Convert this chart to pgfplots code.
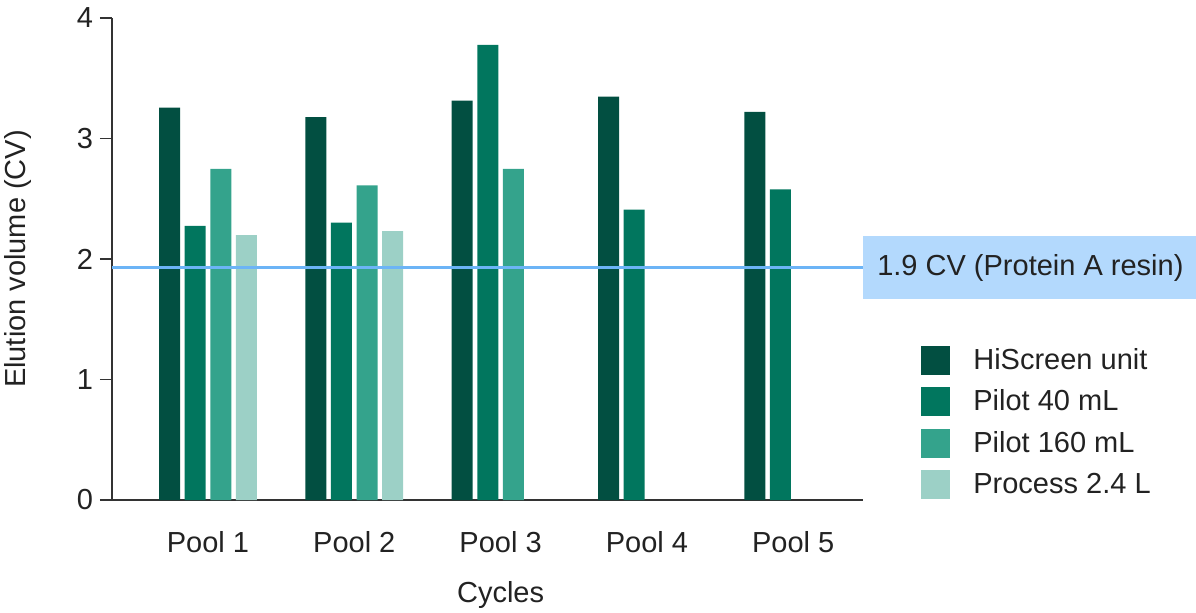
\documentclass[border=0pt]{standalone}
\usepackage{fontspec}
\setmainfont{Liberation Sans}
\usepackage{pgfplots}
\pgfplotsset{compat=1.18}
\definecolor{cA}{HTML}{024F41}
\definecolor{cB}{HTML}{01765E}
\definecolor{cC}{HTML}{34A38C}
\definecolor{cD}{HTML}{9CD0C6}
\definecolor{lineblue}{HTML}{6CB4F6}
\definecolor{boxblue}{HTML}{B3D9FD}
\definecolor{txt}{HTML}{222222}
\newcommand{\ff}{\fontsize{14.5}{17}\selectfont}
\begin{document}
\begin{tikzpicture}[x=1pt,y=1pt]
\useasboundingbox (-56,-56) rectangle (542,250);
\begin{axis}[
  at={(0,0)}, anchor=south west,
  width=375.5pt, height=241pt, scale only axis,
  xmin=-0.656, xmax=4.477, ymin=0, ymax=4,
  axis x line*=bottom, axis y line*=left,
  axis line style={color=black!80, line width=0.8pt, -},
  ytick={0,1,2,3,4},
  xtick={0,1,2,3,4},
  xticklabels={Pool 1,Pool 2,Pool 3,Pool 4,Pool 5},
  x tick style={draw=none},
  y tick style={line width=0.8pt, color=black!80},
  tick align=outside, major tick length=6pt,
  tick label style={font=\ff, text=txt},
  /pgf/number format/assume math mode=true,
  xticklabel style={anchor=base, yshift=-20pt},
  ylabel={Elution volume (CV)},
  ylabel style={at={(axis description cs:-0.1252,0.5)}, anchor=center, font=\ff, text=txt},
  xlabel={Cycles},
  xlabel style={at={(axis cs:2,0)}, anchor=center, yshift=-47.5pt, font=\ff, text=txt},
  ybar=2.3pt, bar width=10.5pt,
  clip=false,
  legend image code/.code={\fill[#1] (0pt,-7.25pt) rectangle (14.5pt,7.25pt);},
  legend cell align=left,
  legend style={at={(axis description cs:1.0772,0.3335)}, anchor=north west,
    draw=none, fill=none, inner sep=0pt, row sep=0pt, font=\ff, text=txt,
    nodes={inner sep=0pt, minimum height=20.75pt},
    /tikz/every odd column/.append style={column sep=11.5pt}},
]
\addplot[fill=cA, draw=none] coordinates {(0,3.256) (1,3.178) (2,3.314) (3,3.347) (4,3.220)};
\addplot[fill=cB, draw=none] coordinates {(0,2.274) (1,2.301) (2,3.778) (3,2.409) (4,2.578)};
\addplot[fill=cC, draw=none] coordinates {(0,2.747) (1,2.612) (2,2.747)};
\addplot[fill=cD, draw=none] coordinates {(0,2.199) (1,2.232)};
\legend{HiScreen unit, Pilot 40 mL, Pilot 160 mL, Process 2.4 L}
\addplot[sharp plot, lineblue, line width=1.5pt, forget plot] coordinates {(-0.656,1.928) (4.477,1.928)};
\node[fill=boxblue, anchor=west, minimum width=167pt, minimum height=31.5pt, inner sep=0pt, font=\ff, text=txt] at (axis cs:4.477,1.928) {1.9 CV (Protein A resin)};
\end{axis}
\end{tikzpicture}
\end{document}
